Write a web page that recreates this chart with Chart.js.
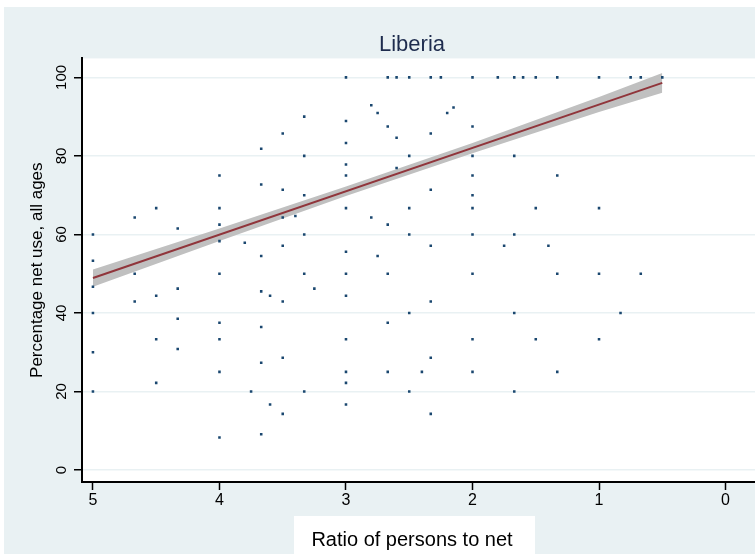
<!DOCTYPE html>
<html>
<head>
<meta charset="utf-8">
<script src="https://cdn.jsdelivr.net/npm/chart.js@4/dist/chart.umd.min.js"></script>
<style>
  html, body { margin: 0; padding: 0; background: #fff; overflow: hidden; }
  #wrap { position: absolute; left: 4px; top: 7px; }
  #myChart { background: #e9f1f3; }
</style>
</head>
<body>
<div id="wrap"><canvas id="myChart" width="816" height="547"></canvas></div>
<script>
// Ratio of persons to net (x) and percentage net use (y), one entry per point
var ratio = [
  3.5, 3.67, 4, 3.67, 3.5, 4.5, 4, 4.67, 3.5, 3.4, 4.33, 4, 5, 4, 3.8, 3.67, 3.5, 5, 4.67, 4,
  5, 3.67, 3.6, 3.5, 4.67, 4.5, 4.33, 5, 4.33, 4, 3.67, 4.5, 4, 4.33, 5, 3.5, 3.67, 4, 4.5, 5,
  3.75, 3.6, 3.5, 3.67, 4,
  3, 2.67, 2.6, 2.5, 2.33, 2.25, 2, 1.8, 1.67, 1.6, 1.5, 1.33, 1, 0.75, 0.67, 0.5,
  2.8, 2.75, 2.15, 2.2, 3.33, 3, 2.67, 2, 2.33, 2.6, 3, 3.33, 2.5, 2, 3, 2.6, 3, 2, 2.33, 3.33,
  2, 3, 2.5, 2, 2.8, 2.67, 3.33, 2.5, 2, 2.33, 1.75, 3, 2.75,
  1.67, 1.33, 1.5, 1, 1.67, 1.4,
  3.33, 3, 2.67, 2, 3.25, 3, 2.33, 2.5, 2.67, 3, 2, 2.33, 3, 2.67, 2.4, 2, 3, 3.33, 2.5, 3,
  2.33,
  1.33, 1, 0.67, 1.67, 0.83, 1.5, 1, 1.33, 1.67
];
var netUse = [
  85.7, 81.8, 75, 72.7, 71.4, 66.7, 66.7, 64.3, 64.3, 64.7, 61.5, 62.5, 60, 58.3, 57.9, 54.5, 57.1, 53.3, 50, 50,
  46.7, 45.5, 44.4, 42.9, 42.9, 44.4, 46.2, 40, 38.5, 37.5, 36.4, 33.3, 33.3, 30.8, 30, 28.6, 27.3, 25, 22.2, 20,
  20, 16.7, 14.3, 9.1, 8.3,
  100, 100, 100, 100, 100, 100, 100, 100, 100, 100, 100, 100, 100, 100, 100, 100,
  92.9, 90.9, 92.3, 90.9, 90, 88.9, 87.5, 87.5, 85.7, 84.6, 83.3, 80, 80, 80, 77.8, 76.9, 75, 75, 71.4, 70,
  70, 66.7, 66.7, 66.7, 64.3, 62.5, 60, 60, 60, 57.1, 57.1, 55.6, 54.5,
  80, 75, 66.7, 66.7, 60, 57.1,
  50, 50, 50, 50, 46.2, 44.4, 42.9, 40, 37.5, 33.3, 33.3, 28.6, 25, 25, 25, 25, 22.2, 20, 20, 16.7,
  14.3,
  50, 50, 50, 40, 40, 33.3, 33.3, 25, 20
];

// Fitted line and its confidence band
var fitX = [5, 0.5];
var fitY = [48.9, 98.6];
var bandX = [5, 4, 3, 2, 1, 0.5];
var bandLow = [46.7, 58.3, 69.8, 80.7, 91.2, 96.1];
var bandHigh = [51.1, 61.5, 72.2, 83.3, 95.0, 101.1];

// Tick labels
var xTicks = [0, 1, 2, 3, 4, 5];
var yTicks = [0, 20, 40, 60, 80, 100];

function pts(xs, ys) {
  return xs.map(function (x, i) { return { x: x, y: ys[i] }; });
}

var font = "'Liberation Sans', Arial, Helvetica, sans-serif";

// white plot region and the white box behind the x title
var backdrop = {
  id: 'backdrop',
  beforeDraw: function (chart) {
    var c = chart.ctx, a = chart.chartArea;
    c.save();
    c.fillStyle = '#ffffff';
    c.fillRect(a.left, a.top, a.right - a.left, a.bottom - a.top);
    c.fillRect(chart.width / 2 - 118, 509, 241, 40);
    c.restore();
  }
};

var ctx = document.getElementById("myChart");
var myChart = new Chart(ctx, {
  type: 'scatter',
  data: {
    datasets: [
      {
        data: pts(ratio, netUse),
        backgroundColor: '#1a476f',
        borderWidth: 0,
        pointStyle: 'rect',
        pointRadius: 1.8
      },
      {
        data: pts(fitX, fitY),
        showLine: true,
        borderColor: '#90353b',
        borderWidth: 2,
        pointRadius: 0
      },
      {
        data: pts(bandX, bandHigh),
        showLine: true,
        borderWidth: 0,
        pointRadius: 0,
        backgroundColor: '#c0c0c0',
        fill: '+1'
      },
      {
        data: pts(bandX, bandLow),
        showLine: true,
        borderWidth: 0,
        pointRadius: 0,
        fill: false
      }
    ]
  },
  options: {
    responsive: false,
    animation: false,
    devicePixelRatio: 1,
    layout: { padding: 0 },
    plugins: {
      legend: { display: false },
      tooltip: { enabled: false },
      title: {
        display: true,
        text: 'Liberia',
        color: '#1e2c4e',
        font: { family: font, size: 22, weight: 'normal' },
        padding: { top: 25, bottom: 0 }
      },
      subtitle: {
        display: true,
        position: 'bottom',
        text: 'Ratio of persons to net',
        color: '#000',
        font: { family: font, size: 20, weight: 'normal' },
        padding: { top: 10, bottom: 2 }
      }
    },
    scales: {
      x: {
        type: 'linear',
        reverse: true,
        min: -0.715,
        max: 5.0865,
        afterBuildTicks: function (s) {
          s.ticks = xTicks.map(function (v) { return { value: v }; });
        },
        afterFit: function (s) { s.height = 36; },
        grid: { drawOnChartArea: false, tickLength: 8, tickColor: '#000', tickWidth: 1.5 },
        border: { color: '#000', width: 2 },
        ticks: { color: '#000', padding: 1, font: { family: font, size: 16 } }
      },
      y: {
        type: 'linear',
        min: -3.05,
        max: 104.83,
        afterBuildTicks: function (s) {
          s.ticks = yTicks.map(function (v) { return { value: v }; });
        },
        afterFit: function (s) { s.width = 78; },
        grid: { color: '#e9f1f3', lineWidth: 1.5, tickLength: 8, tickColor: '#000', tickWidth: 1.5 },
        border: { color: '#000', width: 2 },
        ticks: {
          color: '#000', padding: 0, minRotation: 90, maxRotation: 90,
          crossAlign: 'center', font: { family: font, size: 15 }
        },
        title: {
          display: true,
          text: 'Percentage net use, all ages',
          color: '#000',
          font: { family: font, size: 17 },
          padding: { top: 23, bottom: 0 }
        }
      }
    }
  },
  plugins: [backdrop]
});
</script>
</body>
</html>
